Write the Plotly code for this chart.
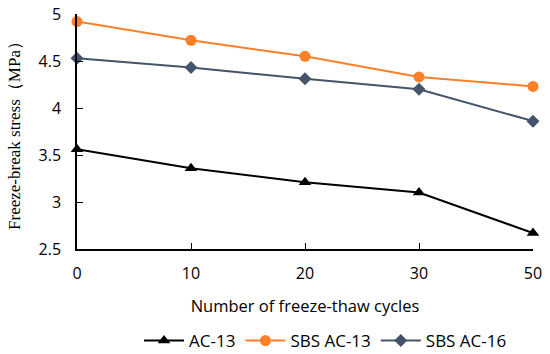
import plotly.graph_objects as go

cycles = ["0", "10", "20", "30", "50"]
ac13 = [3.56, 3.36, 3.21, 3.10, 2.67]
sbs_ac13 = [4.92, 4.72, 4.55, 4.33, 4.23]
sbs_ac16 = [4.53, 4.43, 4.31, 4.20, 3.86]
y_ticks = [2.5, 3, 3.5, 4, 4.5, 5]

fig = go.Figure()
fig.add_trace(go.Scatter(x=cycles, y=ac13, name="AC-13", mode="lines+markers",
                         line=dict(color="#000000", width=2), cliponaxis=False,
                         marker=dict(symbol="triangle-up", size=11, color="#000000")))
fig.add_trace(go.Scatter(x=cycles, y=sbs_ac13, name="SBS AC-13", mode="lines+markers",
                         line=dict(color="#FF7F27", width=2), cliponaxis=False,
                         marker=dict(symbol="circle", size=11, color="#FF7F27")))
fig.add_trace(go.Scatter(x=cycles, y=sbs_ac16, name="SBS AC-16", mode="lines+markers",
                         line=dict(color="#44546A", width=2), cliponaxis=False,
                         marker=dict(symbol="diamond", size=10, color="#44546A")))

fig.update_layout(
    width=550, height=354,
    margin=dict(l=77, r=17, t=14, b=105, autoexpand=False),
    paper_bgcolor="white", plot_bgcolor="white",
    font=dict(family="Open Sans, sans-serif", size=16, color="#000000"),
    showlegend=True,
    legend=dict(orientation="h", x=0.545, xanchor="center", y=-0.315, yanchor="top",
                font=dict(size=17), itemwidth=40, entrywidth=0, tracegroupgap=0),
)
fig.update_xaxes(type="category", range=[0, 4], showgrid=False, showline=True,
                 linecolor="#000000", linewidth=1.5, ticks="inside", ticklen=6,
                 tickcolor="#000000", automargin=False, ticklabelstandoff=9,
                 title=dict(text="Number of freeze-thaw cycles", font=dict(size=16.5), standoff=17),
                 zeroline=False)
fig.update_yaxes(range=[2.5, 5], tickvals=y_ticks, ticktext=[str(v) for v in y_ticks],
                 showgrid=False, showline=True, linecolor="#000000", linewidth=1.5,
                 ticks="inside", ticklen=6, tickcolor="#000000", zeroline=False,
                 automargin=False, ticklabelstandoff=11,
                 title=dict(text="Freeze-break stress（MPa）",
                            font=dict(family="Liberation Serif, Times New Roman, serif", size=17),
                            standoff=14))

fig.write_html("out.html", config={"displayModeBar": False},
               post_script="document.body.style.margin='0';document.body.style.padding='0';")
